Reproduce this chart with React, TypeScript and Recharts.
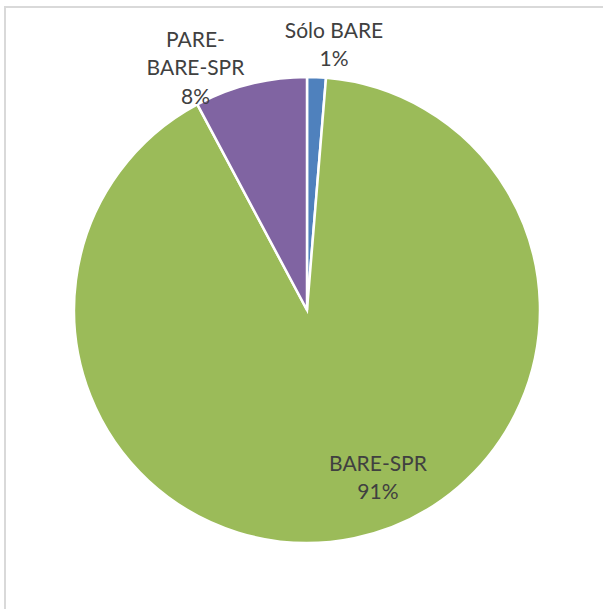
import { PieChart, Pie, Cell } from "recharts";

const categories = ["Sólo BARE", "BARE-SPR", "PARE-BARE-SPR"];
const values = [1.3, 90.9, 7.8];
const percentLabels = ["1%", "91%", "8%"];
const labelLines = [["Sólo BARE"], ["BARE-SPR"], ["PARE-", "BARE-SPR"]];

const COLORS = ["#4F81BD", "#9BBB59", "#8064A2"];

// label placement (Excel "best fit"): offset of the last label line from a point on the slice's mid radius
const LABEL_POS: { r: number; dx: number; dy: number }[] = [
  { r: 1, dx: 17.5, dy: -20 },
  { r: 0.75, dx: 35.5, dy: 9 },
  { r: 1, dx: -55, dy: 11 },
];

const data = categories.map((name, i) => ({ name, value: values[i] }));

const RADIAN = Math.PI / 180;
const LINE_H = 28.5;

const renderLabel = (props: any) => {
  const { cx, cy, midAngle, outerRadius, index } = props;
  const pos = LABEL_POS[index];
  const r = outerRadius * pos.r;
  const x = cx + r * Math.cos(-midAngle * RADIAN) + pos.dx;
  const y = cy + r * Math.sin(-midAngle * RADIAN) + pos.dy;
  const lines = [...labelLines[index], percentLabels[index]];
  const startY = y - (lines.length - 1) * LINE_H;
  return (
    <text
      key={`lbl-${index}`}
      x={x}
      y={startY}
      fill="#404040"
      fontSize={21}
      fontFamily="Lato, 'Noto Sans', sans-serif"
      textAnchor="middle"
      dominantBaseline="central"
    >
      {lines.map((l, i) => (
        <tspan key={i} x={x} dy={i === 0 ? 0 : LINE_H}>
          {l}
        </tspan>
      ))}
    </text>
  );
};

export default function App() {
  return (
    <div
      style={{
        position: "fixed",
        left: 0,
        top: 0,
        width: 603,
        height: 609,
        background: "#fff",
        overflow: "hidden",
      }}
    >
      <div
        style={{
          position: "absolute",
          left: 4,
          top: 6,
          width: 700,
          height: 700,
          borderTop: "2px solid #d9d9d9",
          borderLeft: "2px solid #d9d9d9",
        }}
      />
      <div style={{ position: "absolute", left: 0, top: 0 }}>
        <PieChart width={603} height={609} margin={{ top: 0, right: 0, bottom: 0, left: 0 }}>
          <Pie
            data={data}
            dataKey="value"
            nameKey="name"
            cx={307}
            cy={310}
            outerRadius={233}
            startAngle={90}
            endAngle={-270}
            stroke="#fff"
            strokeWidth={2.5}
            label={renderLabel}
            labelLine={false}
            isAnimationActive={false}
          >
            {data.map((d, i) => (
              <Cell key={d.name} fill={COLORS[i]} />
            ))}
          </Pie>
        </PieChart>
      </div>
    </div>
  );
}
